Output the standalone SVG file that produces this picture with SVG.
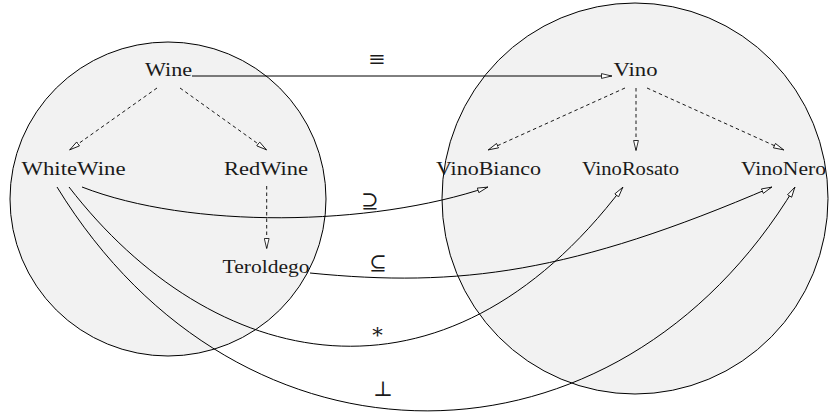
<svg xmlns="http://www.w3.org/2000/svg" width="829" height="416" viewBox="0 0 829 416">
<defs>
<style>
.set{fill:#f2f2f2;stroke:#000;stroke-width:1}
.lbl{font-family:"Liberation Serif","DejaVu Serif",serif;font-size:19px;fill:#1a1a1a}
.sym{font-family:"DejaVu Serif","DejaVu Sans",serif;font-size:21px;fill:#1a1a1a;text-anchor:middle;dominant-baseline:central}
.edge{fill:none;stroke:#000;stroke-width:1;marker-end:url(#open)}
.isa{fill:none;stroke:#000;stroke-width:0.9;stroke-dasharray:3.5 3;marker-end:url(#open)}
</style>
<marker id="open" viewBox="0 0 11 6" refX="11" refY="3" markerWidth="11" markerHeight="6" markerUnits="userSpaceOnUse" orient="auto">
<path d="M0.5,0.6 L10.6,3 L0.5,5.4 Z" fill="#fff" stroke="#000" stroke-width="0.8"/>
</marker>
</defs>
<rect width="829" height="416" fill="#fff"/>
<g id="ontology-left">
<ellipse class="set" cx="168" cy="199" rx="158" ry="157"/>
</g>
<g id="ontology-right">
<ellipse class="set" cx="635" cy="198.5" rx="193" ry="195.5"/>
</g>
<g id="connectors">
<path class="edge" d="M192,76 L612,76"/>
<path class="isa" d="M157,88 L69.5,150"/>
<path class="isa" d="M180,88 L266.7,150"/>
<path class="isa" d="M266.7,186 L266.7,249"/>
<path class="isa" d="M625,88 L488,150"/>
<path class="isa" d="M636,88 L636,151"/>
<path class="isa" d="M647,88 L784,150"/>
<path class="edge" d="M82,187 C190,229 370,227 488,187"/>
<path class="edge" d="M310,273 C460,288 572,273 772,187"/>
<path class="edge" d="M69,187 C212,372 443,425 623,187"/>
<path class="edge" d="M57,187 C241,487 616,484 795,187"/>
</g>
<g id="edge-labels">
<text class="sym" x="377" y="59">≡</text>
<text class="sym" x="370" y="201">⊇</text>
<text class="sym" x="378" y="263">⊆</text>
<text class="sym" x="377.5" y="335">*</text>
<text class="sym" x="383" y="389">⊥</text>
</g>
<g id="Wine"><text class="lbl" x="145" y="76" textLength="47" lengthAdjust="spacingAndGlyphs">Wine</text></g>
<g id="WhiteWine"><text class="lbl" x="21.5" y="175" textLength="104" lengthAdjust="spacingAndGlyphs">WhiteWine</text></g>
<g id="RedWine"><text class="lbl" x="224" y="175" textLength="84" lengthAdjust="spacingAndGlyphs">RedWine</text></g>
<g id="Teroldego"><text class="lbl" x="222.5" y="273" textLength="87" lengthAdjust="spacingAndGlyphs">Teroldego</text></g>
<g id="Vino"><text class="lbl" x="613.5" y="76" textLength="44" lengthAdjust="spacingAndGlyphs">Vino</text></g>
<g id="VinoBianco"><text class="lbl" x="436" y="175" textLength="105" lengthAdjust="spacingAndGlyphs">VinoBianco</text></g>
<g id="VinoRosato"><text class="lbl" x="582" y="175" textLength="97" lengthAdjust="spacingAndGlyphs">VinoRosato</text></g>
<g id="VinoNero"><text class="lbl" x="741" y="175" textLength="85" lengthAdjust="spacingAndGlyphs">VinoNero</text></g>
</svg>
